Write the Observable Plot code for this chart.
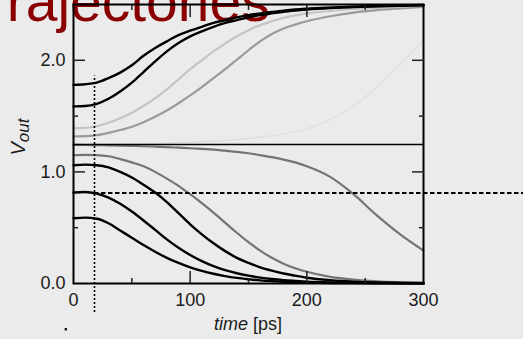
<!DOCTYPE html>
<html><head><meta charset="utf-8">
<script src="https://cdn.jsdelivr.net/npm/d3@7"></script>
<script src="https://cdn.jsdelivr.net/npm/@observablehq/plot@0.6"></script>
<style>
html,body{margin:0;padding:0;background:#ebebeb;overflow:hidden}
#chart svg{display:block}
</style></head><body><div id="chart"></div>
<script>
// ---- data ----
const tGrid = [0,10,20,30,40,50,60,70,80,90,100,110,120,130,140,150,160,170,180,190,200,220,240,260,280,300];
const faint  = [1.247,1.247,1.248,1.249,1.25,1.251,1.253,1.255,1.258,1.262,1.266,1.27,1.276,1.282,1.29,1.30,1.31,1.323,1.34,1.36,1.385,1.47,1.59,1.76,1.96,2.18];
const riseGray = [1.318,1.32,1.33,1.35,1.375,1.405,1.445,1.495,1.55,1.615,1.685,1.76,1.84,1.92,2.005,2.09,2.17,2.235,2.285,2.32,2.35,2.395,2.428,2.45,2.465,2.478];
const riseLight = [1.393,1.395,1.41,1.44,1.48,1.53,1.59,1.66,1.74,1.83,1.92,2.0,2.08,2.15,2.215,2.27,2.315,2.35,2.38,2.402,2.42,2.442,2.46,2.47,2.48,2.49];
const riseBlack2 = [1.587,1.59,1.61,1.655,1.72,1.80,1.895,1.99,2.08,2.155,2.215,2.26,2.30,2.335,2.36,2.385,2.405,2.42,2.435,2.446,2.455,2.468,2.477,2.484,2.489,2.493];
const riseBlack1 = [1.78,1.785,1.80,1.84,1.89,1.955,2.04,2.11,2.17,2.225,2.265,2.30,2.335,2.36,2.385,2.405,2.42,2.433,2.445,2.455,2.462,2.472,2.48,2.486,2.491,2.495];
const slowGray = [1.242,1.241,1.24,1.238,1.236,1.233,1.23,1.226,1.222,1.217,1.212,1.206,1.2,1.19,1.18,1.167,1.15,1.132,1.11,1.085,1.05,0.955,0.8,0.61,0.44,0.295];
const fastGray = [1.15,1.152,1.15,1.14,1.115,1.085,1.05,1.0,0.94,0.875,0.80,0.72,0.635,0.545,0.455,0.37,0.295,0.23,0.178,0.137,0.105,0.06,0.035,0.02,0.012,0.007];
const flatBlack = [1.245,1.245,1.245,1.245,1.245,1.245,1.245,1.245,1.245,1.245,1.245,1.245,1.245,1.245,1.245,1.245,1.245,1.245,1.245,1.245,1.245,1.245,1.245,1.245,1.245,1.245];
const descBlack1 = [1.06,1.065,1.06,1.04,1.0,0.95,0.885,0.815,0.73,0.63,0.53,0.44,0.36,0.29,0.23,0.185,0.145,0.115,0.09,0.07,0.052,0.03,0.017,0.01,0.006,0.003];
const descBlack2 = [0.815,0.82,0.805,0.77,0.715,0.645,0.565,0.48,0.395,0.32,0.255,0.2,0.155,0.12,0.092,0.07,0.053,0.04,0.03,0.023,0.017,0.01,0.006,0.004,0.002,0.001];
const descBlack3 = [0.585,0.59,0.58,0.54,0.475,0.41,0.345,0.285,0.23,0.185,0.145,0.113,0.087,0.066,0.05,0.038,0.028,0.021,0.016,0.012,0.009,0.005,0.003,0.002,0.001,0.001];

const thresholdV = [0.81];          // dashed level
const dashSpanT = [18, 390];        // dashed line extent (time)
const markerT = [18];               // dotted time marker
const markerSpanV = [-0.26, 1.86];  // dotted line extent (V)
const strayPoint = [{t: -6.6, v: -0.41}];

const xLabelTicks = [0,100,200,300];
const xMajor = [100,200];
const xMinor = [50,150,250];
const yLabelTicks = [0,1,2];
const yMajor = [1,2];
const yMinor = [0.5,1.5];

// ---- styles ----
const seriesList = [
  {values: faint,      stroke: "#e0e0e0", width: 1.6},
  {values: riseGray,   stroke: "#9a9a9a", width: 2.2},
  {values: riseLight,  stroke: "#c4c4c4", width: 2.2},
  {values: slowGray,   stroke: "#747474", width: 2.2},
  {values: fastGray,   stroke: "#747474", width: 2.2},
  {values: flatBlack,  stroke: "#000",    width: 1.4},
  {values: riseBlack2, stroke: "#000",    width: 2.4},
  {values: riseBlack1, stroke: "#000",    width: 2.4},
  {values: descBlack1, stroke: "#000",    width: 2.4},
  {values: descBlack2, stroke: "#000",    width: 2.4},
  {values: descBlack3, stroke: "#000",    width: 2.4}
];

const font = "'Liberation Sans', Arial, Helvetica, sans-serif";
const tickStyle = {stroke: "#222", strokeWidth: 1.5, tickFormat: () => "", label: null};

const marks = [];
for (const s of seriesList) {
  const rows = tGrid.map((t, i) => ({t, v: s.values[i]}));
  marks.push(Plot.line(rows, {x: "t", y: "v", stroke: s.stroke, strokeWidth: s.width, curve: "monotone-x"}));
}
marks.push(
  Plot.ruleY(thresholdV, {y: d => d, x1: dashSpanT[0], x2: dashSpanT[1], stroke: "#000", strokeWidth: 2, strokeDasharray: "4.5,2.5"}),
  Plot.ruleX(markerT, {x: d => d, y1: markerSpanV[0], y2: markerSpanV[1], stroke: "#000", strokeWidth: 1.6, strokeDasharray: "2,2"}),
  Plot.dot(strayPoint, {x: "t", y: "v", r: 1.3, fill: "#000", symbol: "square"}),
  Plot.frame({stroke: "#000", strokeWidth: 2}),
  Plot.axisX(xMajor, {anchor: "bottom", tickSize: -12, ...tickStyle}),
  Plot.axisX(xMinor, {anchor: "bottom", tickSize: -5, ...tickStyle}),
  Plot.axisX(xMajor, {anchor: "top", tickSize: -12, ...tickStyle}),
  Plot.axisX(xMinor, {anchor: "top", tickSize: -5, ...tickStyle}),
  Plot.axisY(yMajor, {anchor: "left", tickSize: -12, ...tickStyle}),
  Plot.axisY(yMinor, {anchor: "left", tickSize: -5, ...tickStyle}),
  Plot.axisY(yMajor, {anchor: "right", tickSize: -12, ...tickStyle}),
  Plot.axisY(yMinor, {anchor: "right", tickSize: -5, ...tickStyle}),
  Plot.axisX(xLabelTicks, {anchor: "bottom", tickSize: 0, tickPadding: 10, fontSize: 18, fill: "#1a1a1a", label: null, tickFormat: d => String(d)}),
  Plot.axisY(yLabelTicks, {anchor: "left", tickSize: 0, tickPadding: 8, fontSize: 18, fill: "#1a1a1a", label: null, tickFormat: d3.format(".1f")})
);

const chart = Plot.plot({
  width: 523,
  height: 339,
  marginTop: 4,
  marginRight: 100,
  marginBottom: 56,
  marginLeft: 73,
  style: {background: "#ebebeb", fontFamily: font, overflow: "visible"},
  x: {domain: [0, 300]},
  y: {domain: [0, 2.5]},
  marks
});

const svg = d3.select(chart);
// title (underneath everything else)
svg.insert("text", "g")
  .attr("x", -26).attr("y", 21)
  .attr("text-anchor", "start")
  .attr("font-size", 57).attr("font-family", font)
  .attr("fill", "#8b0000")
  .text("Trajectories");
// x label
const xl = svg.append("text").attr("x", 248).attr("y", 330)
  .attr("text-anchor", "middle").attr("font-size", 18).attr("font-family", font).attr("fill", "#1a1a1a");
xl.append("tspan").attr("font-style", "italic").text("time");
xl.append("tspan").text(" [ps]");
// y label
const yl = svg.append("text").attr("transform", "translate(25,137) rotate(-90)")
  .attr("text-anchor", "middle").attr("font-size", 20).attr("font-family", font).attr("fill", "#1a1a1a");
yl.append("tspan").attr("font-style", "italic").text("V");
yl.append("tspan").attr("font-style", "italic").attr("font-size", 17).attr("dy", 4).text("out");

document.getElementById("chart").append(chart);
</script></body></html>
